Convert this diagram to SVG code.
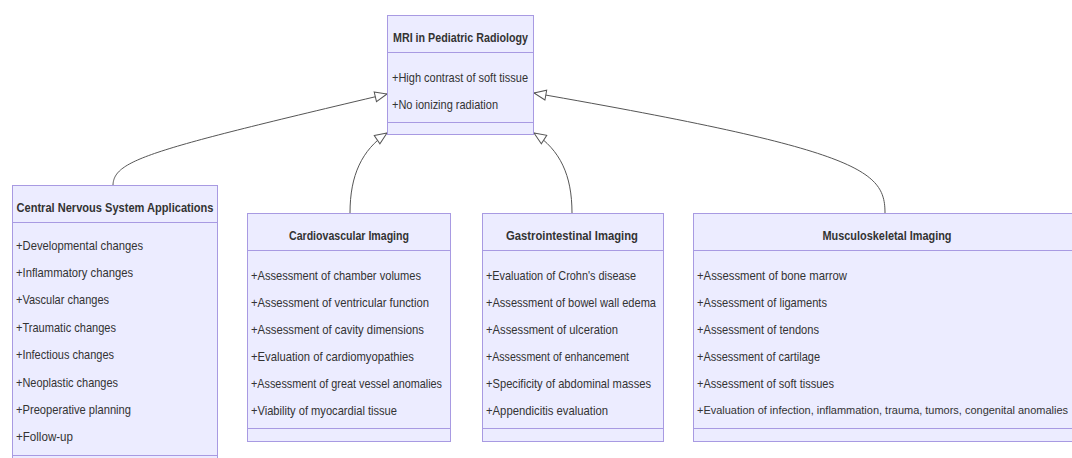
<svg xmlns="http://www.w3.org/2000/svg" width="1072" height="458" viewBox="0 0 1072 458">
<style>
.box{fill:#ECECFF;stroke:#a89ae2;stroke-width:1}
.div{stroke:#a89ae2;stroke-width:1}
.t{font-family:"Liberation Sans",Arial,sans-serif;font-size:13px;fill:#333;dominant-baseline:central}
.h{font-weight:bold;text-anchor:middle}
.edge{fill:none;stroke:#555;stroke-width:1}
</style>
<defs>
<marker id="ext" markerUnits="userSpaceOnUse" markerWidth="14" markerHeight="12" viewBox="0 0 14 12" refX="13" refY="6" orient="auto">
<path d="M1,1 L13,6 L1,11 Z" fill="#fff" stroke="#555" stroke-width="1"/>
</marker>
</defs>
<rect width="1072" height="458" fill="#fff"/>
<g id="connectors">
<path class="edge" d="M113,185 C114,160 150,150 387,94" marker-end="url(#ext)"/>
<path class="edge" d="M350,213 C350,175 362,150 387,133" marker-end="url(#ext)"/>
<path class="edge" d="M572,213 C572,175 560,150 534,133" marker-end="url(#ext)"/>
<path class="edge" d="M885,213 C885,170 860,150 534,93" marker-end="url(#ext)"/>
</g>
<g id="mri">
<rect class="box" x="387.5" y="15.5" width="146" height="119"/>
<line class="div" x1="387.5" y1="52.5" x2="533.5" y2="52.5"/>
<line class="div" x1="387.5" y1="122.5" x2="533.5" y2="122.5"/>
<text class="t h" x="460.5" y="37" textLength="135" lengthAdjust="spacingAndGlyphs">MRI in Pediatric Radiology</text>
<text class="t" x="392" y="77" textLength="136" lengthAdjust="spacingAndGlyphs">+High contrast of soft tissue</text>
<text class="t" x="392" y="104" textLength="106" lengthAdjust="spacingAndGlyphs">+No ionizing radiation</text>
</g>
<g id="cns">
<rect class="box" x="12.5" y="185.5" width="205" height="282"/>
<line class="div" x1="12.5" y1="222.5" x2="217.5" y2="222.5"/>
<line class="div" x1="12.5" y1="455.5" x2="217.5" y2="455.5"/>
<text class="t h" x="115" y="207" textLength="197" lengthAdjust="spacingAndGlyphs">Central Nervous System Applications</text>
<text class="t" x="16" y="245" textLength="127" lengthAdjust="spacingAndGlyphs">+Developmental changes</text>
<text class="t" x="16" y="272.4" textLength="117" lengthAdjust="spacingAndGlyphs">+Inflammatory changes</text>
<text class="t" x="16" y="299.8" textLength="93" lengthAdjust="spacingAndGlyphs">+Vascular changes</text>
<text class="t" x="16" y="327.2" textLength="100" lengthAdjust="spacingAndGlyphs">+Traumatic changes</text>
<text class="t" x="16" y="354.6" textLength="98" lengthAdjust="spacingAndGlyphs">+Infectious changes</text>
<text class="t" x="16" y="382" textLength="102" lengthAdjust="spacingAndGlyphs">+Neoplastic changes</text>
<text class="t" x="16" y="409.4" textLength="115" lengthAdjust="spacingAndGlyphs">+Preoperative planning</text>
<text class="t" x="16" y="436.8" textLength="57" lengthAdjust="spacingAndGlyphs">+Follow-up</text>
</g>
<g id="cardio">
<rect class="box" x="247.5" y="213.5" width="203" height="228"/>
<line class="div" x1="247.5" y1="250.5" x2="450.5" y2="250.5"/>
<line class="div" x1="247.5" y1="428.5" x2="450.5" y2="428.5"/>
<text class="t h" x="349" y="235" textLength="120" lengthAdjust="spacingAndGlyphs">Cardiovascular Imaging</text>
<text class="t" x="251" y="275" textLength="170" lengthAdjust="spacingAndGlyphs">+Assessment of chamber volumes</text>
<text class="t" x="251" y="302" textLength="178" lengthAdjust="spacingAndGlyphs">+Assessment of ventricular function</text>
<text class="t" x="251" y="329" textLength="173" lengthAdjust="spacingAndGlyphs">+Assessment of cavity dimensions</text>
<text class="t" x="251" y="356" textLength="163" lengthAdjust="spacingAndGlyphs">+Evaluation of cardiomyopathies</text>
<text class="t" x="251" y="383" textLength="191" lengthAdjust="spacingAndGlyphs">+Assessment of great vessel anomalies</text>
<text class="t" x="251" y="410" textLength="146" lengthAdjust="spacingAndGlyphs">+Viability of myocardial tissue</text>
</g>
<g id="gastro">
<rect class="box" x="482.5" y="213.5" width="181" height="228"/>
<line class="div" x1="482.5" y1="250.5" x2="663.5" y2="250.5"/>
<line class="div" x1="482.5" y1="428.5" x2="663.5" y2="428.5"/>
<text class="t h" x="572" y="235" textLength="132" lengthAdjust="spacingAndGlyphs">Gastrointestinal Imaging</text>
<text class="t" x="486" y="275" textLength="150" lengthAdjust="spacingAndGlyphs">+Evaluation of Crohn's disease</text>
<text class="t" x="486" y="302" textLength="170" lengthAdjust="spacingAndGlyphs">+Assessment of bowel wall edema</text>
<text class="t" x="486" y="329" textLength="132" lengthAdjust="spacingAndGlyphs">+Assessment of ulceration</text>
<text class="t" x="486" y="356" textLength="143" lengthAdjust="spacingAndGlyphs">+Assessment of enhancement</text>
<text class="t" x="486" y="383" textLength="165" lengthAdjust="spacingAndGlyphs">+Specificity of abdominal masses</text>
<text class="t" x="486" y="410" textLength="122" lengthAdjust="spacingAndGlyphs">+Appendicitis evaluation</text>
</g>
<g id="msk">
<rect class="box" x="693.5" y="213.5" width="388" height="228"/>
<line class="div" x1="693.5" y1="250.5" x2="1081.5" y2="250.5"/>
<line class="div" x1="693.5" y1="428.5" x2="1081.5" y2="428.5"/>
<text class="t h" x="887" y="235" textLength="129" lengthAdjust="spacingAndGlyphs">Musculoskeletal Imaging</text>
<text class="t" x="697" y="275" textLength="150" lengthAdjust="spacingAndGlyphs">+Assessment of bone marrow</text>
<text class="t" x="697" y="302" textLength="130" lengthAdjust="spacingAndGlyphs">+Assessment of ligaments</text>
<text class="t" x="697" y="329" textLength="122" lengthAdjust="spacingAndGlyphs">+Assessment of tendons</text>
<text class="t" x="697" y="356" textLength="123" lengthAdjust="spacingAndGlyphs">+Assessment of cartilage</text>
<text class="t" x="697" y="383" textLength="137" lengthAdjust="spacingAndGlyphs">+Assessment of soft tissues</text>
<text class="t" x="697" y="410" style="font-size:11px" textLength="371" lengthAdjust="spacingAndGlyphs">+Evaluation of infection, inflammation, trauma, tumors, congenital anomalies</text>
</g>
</svg>
